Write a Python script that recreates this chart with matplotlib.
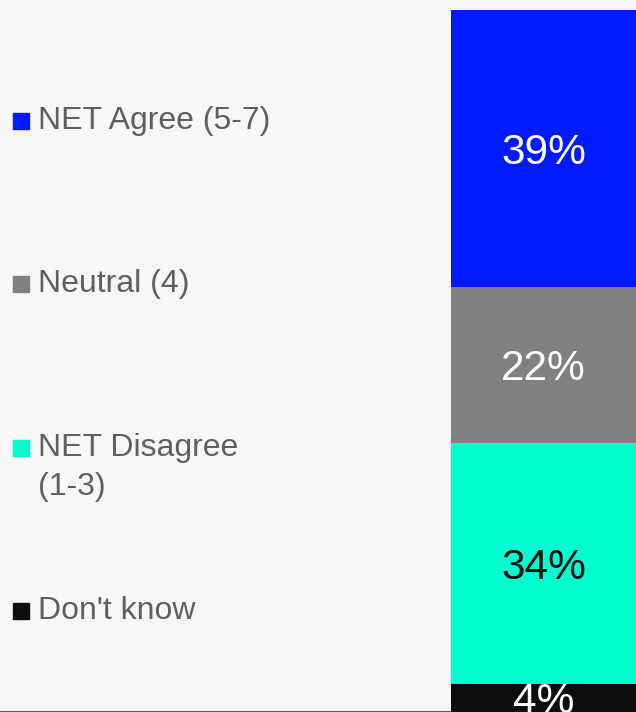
import matplotlib.pyplot as plt
from matplotlib.patches import Rectangle

plt.rcParams['font.family'] = ['Liberation Sans', 'DejaVu Sans']

# stacked from bottom to top
categories = ["Don't know", "NET Disagree\n(1-3)", "Neutral (4)", "NET Agree (5-7)"]
values = [4, 34, 22, 39]
colors = ['#0d0d0d', '#00ffd0', '#808080', '#0019ff']
label_colors = ['white', '#0d0d0d', 'white', 'white']

W, H = 636, 712
bg = '#f7f7f7'


def plot_bar():
    fig = plt.figure(figsize=(W / 100, H / 100), dpi=100, facecolor=bg)
    ax = fig.add_axes([0, 0, 1, 709 / H])
    ax.set_facecolor(bg)

    bottom = 0
    for v, c, lc in zip(values, colors, label_colors):
        ax.bar(0, v, width=1, bottom=bottom, align='edge', color=c, zorder=3)
        ax.text(0.5, bottom + v / 2, '%d%%' % v, ha='center', va='center_baseline',
                color=lc, fontsize=30.5, zorder=4)
        bottom += v

    ax.set_xlim(-451 / 185, 1)
    ax.set_ylim(0, 100)
    for s in ['top', 'left', 'right']:
        ax.spines[s].set_visible(False)
    ax.spines['bottom'].set_color('#595959')
    ax.spines['bottom'].set_linewidth(1.5)
    ax.set_xticks([])
    ax.set_yticks([])

    # legend, top entry first
    sq = 16
    for i, (cat, c) in enumerate(zip(categories[::-1], colors[::-1])):
        base = 129 + 163.3 * i
        fig.patches.append(Rectangle((13 / W, 1 - base / H), sq / W, sq / H,
                                     transform=fig.transFigure, color=c))
        for j, line in enumerate(cat.split('\n')):
            fig.text(38 / W, 1 - (base + 39 * j) / H, line, ha='left', va='baseline',
                     fontsize=23, color='#5f5f5f')

    plt.savefig('out.png', dpi=100, facecolor=bg)


if __name__ == '__main__':
    plot_bar()
